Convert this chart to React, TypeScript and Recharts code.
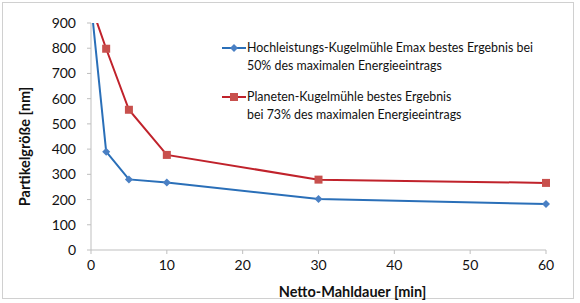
import React from 'react';
import { LineChart, Line, XAxis, YAxis, Label } from 'recharts';

// Netto-Mahldauer [min]
const mahldauer = [0, 2, 5, 10, 30, 60];
// Partikelgröße [nm] per mill
const emaxWerte = [980, 390, 280, 268, 202, 182];
const planetenWerte = [970, 798, 556, 377, 279, 266];

const xTicks = [0, 10, 20, 30, 40, 50, 60];
const yTicks = [0, 100, 200, 300, 400, 500, 600, 700, 800, 900];

const BLUE = '#2a6fb8';
const BLUE_MARK = '#4a80c4';
const RED = '#c0222b';
const RED_MARK = '#c8504d';
const FONT = 'Lato, "Open Sans", sans-serif';
const TITLE_STYLE = { fill: '#111', fontSize: 14.5, fontWeight: 'bold' as const, fontFamily: FONT };

const data = mahldauer.map((t, i) => ({
  t,
  emax: emaxWerte[i],
  planeten: planetenWerte[i],
}));

const series = [
  {
    key: 'emax',
    color: BLUE,
    mark: BLUE_MARK,
    lines: ['Hochleistungs-Kugelmühle Emax bestes Ergebnis bei', '50% des maximalen Energieeintrags'],
  },
  {
    key: 'planeten',
    color: RED,
    mark: RED_MARK,
    lines: ['Planeten-Kugelmühle bestes Ergebnis', 'bei 73% des maximalen Energieeintrags'],
  },
];

function Diamond(props: any) {
  const { cx, cy } = props;
  if (cx == null || cy == null) return null;
  const r = 4;
  return (
    <path
      d={`M${cx},${cy - r}L${cx + r},${cy}L${cx},${cy + r}L${cx - r},${cy}Z`}
      fill={BLUE_MARK}
    />
  );
}

function Square(props: any) {
  const { cx, cy } = props;
  if (cx == null || cy == null) return null;
  return <rect x={cx - 4} y={cy - 4} width={8} height={8} fill={RED_MARK} />;
}

// axis titles sit a little off the plot centre, as in the Excel layout
function XTitle(props: any) {
  const { viewBox } = props;
  const x = viewBox.x + viewBox.width / 2 + 34;
  return (
    <text x={x} y={297} textAnchor="middle" style={TITLE_STYLE}>
      Netto-Mahldauer [min]
    </text>
  );
}

function YTitle(props: any) {
  const { viewBox } = props;
  const cy = viewBox.y + viewBox.height / 2 + 10;
  return (
    <text x={30} y={cy} transform={`rotate(-90 30 ${cy})`} textAnchor="middle" style={TITLE_STYLE}>
      Partikelgröße [nm]
    </text>
  );
}

function LegendBox() {
  return (
    <div
      style={{
        position: 'absolute', left: 221, top: 39,
        fontFamily: FONT, fontSize: 12.4, color: '#111', lineHeight: '18px',
      }}
    >
      {series.map((s, i) => (
        <div key={s.key} style={{ display: 'flex', marginBottom: i === 0 ? 13 : 0 }}>
          <svg width={26} height={18} style={{ flex: 'none' }}>
            <line x1={1} y1={9} x2={25} y2={9} stroke={s.color} strokeWidth={2} />
            {i === 0 ? (
              <path d="M13,5L17,9L13,13L9,9Z" fill={s.mark} />
            ) : (
              <rect x={9} y={5} width={8} height={8} fill={s.mark} />
            )}
          </svg>
          <div>
            {s.lines.map(l => (
              <div key={l}>{l}</div>
            ))}
          </div>
        </div>
      ))}
    </div>
  );
}

export default function App() {
  return (
    <div style={{ position: 'absolute', left: 0, top: 0, width: 580, height: 303, background: '#fff' }}>
      <div
        style={{
          position: 'absolute', left: 2, top: 2, width: 572, height: 297,
          border: '1px solid #d0d0d0', boxSizing: 'border-box',
        }}
      />
      <LineChart
        width={580}
        height={303}
        data={data}
        margin={{ top: 23, right: 34, bottom: 0, left: 0 }}
      >
        <XAxis
          dataKey="t"
          type="number"
          domain={[0, 60]}
          ticks={xTicks}
          height={53}
          stroke="#bfbfbf"
          tickSize={4}
          tick={{ fill: '#111', fontSize: 14, fontFamily: FONT }}
          tickMargin={6}
        >
          <Label content={<XTitle />} />
        </XAxis>
        <YAxis
          type="number"
          domain={[0, 900]}
          ticks={yTicks}
          allowDataOverflow
          width={91}
          stroke="#bfbfbf"
          tickSize={4}
          tickMargin={11}
          tick={{ fill: '#111', fontSize: 14, fontFamily: FONT }}
        >
          <Label content={<YTitle />} />
        </YAxis>
        <Line
          dataKey="emax"
          stroke={BLUE}
          strokeWidth={2}
          dot={<Diamond />}
          activeDot={false}
          isAnimationActive={false}
        />
        <Line
          dataKey="planeten"
          stroke={RED}
          strokeWidth={2}
          dot={<Square />}
          activeDot={false}
          isAnimationActive={false}
        />
      </LineChart>
      <LegendBox />
    </div>
  );
}
